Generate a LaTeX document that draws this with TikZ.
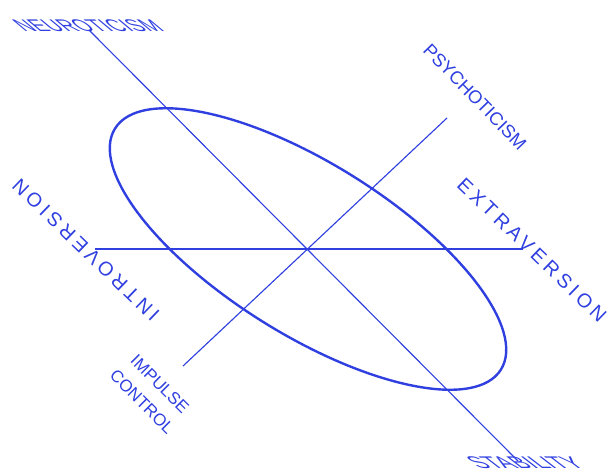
\documentclass[tikz,border=0pt]{standalone}
\usepackage{fontspec}
\setmainfont{Liberation Sans}
\newfontfamily\spreadfont[LetterSpace=21]{Liberation Sans}
\usetikzlibrary{positioning}
\definecolor{AxisBlue}{HTML}{2F3FE0}

\begin{document}
\begin{tikzpicture}[x=0.025cm,y=-0.025cm,
  axis/.style={AxisBlue,line width=0.8pt},
  oval/.style={AxisBlue,line width=1.7pt},
  lbl/.style={text=AxisBlue,inner sep=0pt,font=\fontsize{12}{18}\selectfont,align=center},
  wide/.style={lbl,font=\fontsize{14}{16}\spreadfont}]
  \useasboundingbox (0,0) rectangle (609,475);
  % axes
  \coordinate (ctr) at (308,249);
  \coordinate (neuEnd) at (89,30);
  \coordinate (staEnd) at (518,461);
  \coordinate (intEnd) at (95,249);
  \coordinate (extEnd) at (523,249);
  \coordinate (psyEnd) at (447,118);
  \coordinate (impEnd) at (183,366);
  \draw[axis] (neuEnd) -- (staEnd);
  \draw[axis] (intEnd) -- (extEnd);
  \draw[axis] (impEnd) -- (psyEnd);
  \draw[oval,shift={(ctr)},rotate=-32] (0,0) ellipse [x radius=227.5,y radius=85.6];
  % labels
  \node[lbl,xscale=1.2,xslant=-1] (neu) at (88,26) {NEUROTICISM};
  \node[lbl,xscale=1.3,xslant=-1] (sta) at (525,463) {STABILITY};
  \node[lbl,font=\fontsize{13}{15}\selectfont,rotate=-46] (psy) at (475,97) {PSYCHOTICISM};
  \node[wide,rotate=-44] (ext) at (532,250) {EXTRAVERSION};
  \node[wide,rotate=136] (int) at (86,250) {INTROVERSION};
  \node[lbl,rotate=-45] (imp) at (151,393) {IMPULSE\\CONTROL};
\end{tikzpicture}
\end{document}
